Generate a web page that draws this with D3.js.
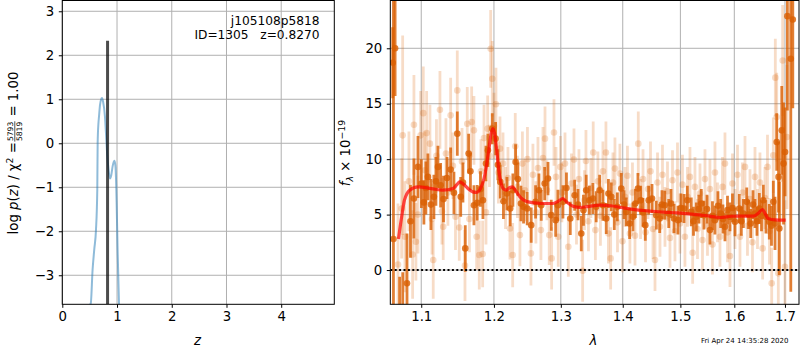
<!DOCTYPE html>
<html>
<head>
<meta charset="utf-8">
<script src="https://cdn.jsdelivr.net/npm/d3@7"></script>
<style>
  body { margin: 0; background: #fff; }
  text { font-family: "DejaVu Sans", sans-serif; }
</style>
</head>
<body>
<div id="chart"></div>
<script>
// redshift fit summary -- p(z) on the left, 1D spectrum + model on the right

// p(z) panel
var zTicks = [0, 1, 2, 3, 4];
var pzTicks = [-3, -2, -1, 0, 1, 2, 3];
var pzZ   = [0.40, 0.47, 0.52, 0.553, 0.585, 0.615, 0.639, 0.646, 0.66, 0.67, 0.69, 0.71, 0.725, 0.745, 0.78, 0.798, 0.82, 0.845, 0.871, 0.895, 0.92, 0.95, 0.97, 0.985, 0.993, 1.01, 1.036, 1.06];
var pzLog = [-3.70, -3.70, -3.64, -2.88, -2.40, -1.98, -1.07, 0.00, 0.45, 0.60, 0.88, 1.00, 1.03, 0.95, 0.60, 0.23, -0.25, -0.60, -0.80, -0.72, -0.52, -0.40, -0.50, -0.95, -1.36, -2.40, -3.66, -4.60];
var zBest = 0.827;
var zBestTop = 2.33;

// spectrum panel
var waveTicks = [1.1, 1.2, 1.3, 1.4, 1.5, 1.6, 1.7];
var fluxTicks = [0, 5, 10, 15, 20];

var darkWave = [1.0631, 1.0640, 1.0661, 1.0719, 1.0759, 1.0814, 1.0859, 1.0904, 1.0957, 1.1002, 1.1035, 1.1061, 1.1088, 1.1128, 1.1168, 1.1195, 1.1222, 1.1258, 1.1297, 1.1344, 1.1394, 1.1439, 1.1485, 1.1532, 1.1563, 1.1595, 1.1642, 1.1667, 1.1716, 1.1762, 1.1808, 1.1843, 1.1886, 1.1914, 1.1976, 1.2024, 1.2057, 1.2091, 1.2137, 1.2188, 1.2236, 1.2275, 1.2315, 1.2349, 1.2394, 1.2433, 1.2487, 1.2547, 1.2613, 1.2664, 1.2699, 1.2751, 1.2802, 1.2852, 1.2920, 1.2955, 1.3033, 1.3088, 1.3148, 1.3217, 1.3270, 1.3322, 1.3357, 1.3401, 1.3452, 1.3509, 1.3562, 1.3618, 1.3672, 1.3726, 1.3762, 1.3809, 1.3859, 1.3909, 1.3976, 1.4021, 1.4059, 1.4116, 1.4172, 1.4214, 1.4257, 1.4304, 1.4343, 1.4383, 1.4441, 1.4499, 1.4573, 1.4633, 1.4673, 1.4721, 1.4792, 1.4832, 1.4886, 1.4957, 1.5011, 1.5065, 1.5125, 1.5197, 1.5237, 1.5289, 1.5334, 1.5380, 1.5429, 1.5485, 1.5540, 1.5587, 1.5633, 1.5690, 1.5741, 1.5784, 1.5822, 1.5870, 1.5917, 1.5965, 1.6013, 1.6096, 1.6135, 1.6173, 1.6240, 1.6275, 1.6317, 1.6362, 1.6401, 1.6440, 1.6486, 1.6529, 1.6565, 1.6618, 1.6684, 1.6728, 1.6765, 1.6799, 1.6833, 1.6870, 1.6886, 1.6935, 1.6971, 1.7002, 1.7049, 1.7119, 1.7160];
var darkFlux = [18.7, 2.8, 20.0, -6.0, -5.5, -1.2, 4.4, 6.45, 9.3, 7.8, 6.1, 7.4, 8.4, 5.9, 6.6, 8.0, 9.3, 7.65, 6.4, 8.3, 9.06, 6.96, 12.3, 6.6, 7.9, 1.95, 10.5, 8.9, 5.85, 6.06, 7.3, 6.3, 9.6, 10.8, 12.75, 11.85, 9.5, 7.95, 6.2, 6.9, 5.55, 7.2, 9.75, 8.2, 6.0, 5.7, 5.55, 4.05, 6.15, 7.2, 5.85, 7.8, 8.25, 4.95, 4.5, 5.85, 6.15, 7.4, 4.65, 6.75, 5.9, 3.3, 5.4, 7.2, 6.3, 6.45, 5.7, 7.2, 5.85, 4.65, 6.9, 6.6, 5.0, 5.7, 7.35, 5.9, 5.25, 4.2, 4.8, 6.0, 7.35, 6.3, 5.2, 4.05, 6.3, 6.45, 4.95, 4.65, 5.9, 5.85, 5.1, 6.0, 4.65, 4.5, 5.6, 5.55, 6.3, 5.25, 4.4, 4.8, 5.5, 6.0, 4.95, 5.5, 3.6, 4.9, 4.5, 5.8, 5.1, 4.6, 3.9, 5.4, 4.8, 5.6, 4.35, 5.55, 4.4, 5.1, 6.15, 5.0, 4.2, 5.9, 5.1, 4.4, 5.55, 4.9, 6.3, 4.8, 4.35, 4.0, 6.15, 4.2, 11.55, 8.4, 3.75, 12.6, 9.6, 10.65, 22.9, 19.05, 22.6];
var darkErr  = [3.2, 22, 4.3, 5.4, 5.3, 4.5, 3.3, 3.6, 2.8, 2.2, 2.0, 2.4, 2.1, 2.3, 2.0, 2.2, 1.9, 2.0, 2.1, 1.9, 2.0, 1.9, 2.0, 1.8, 1.8, 2.1, 1.8, 1.7, 1.8, 1.6, 1.6, 1.7, 1.6, 1.5, 1.4, 1.5, 1.4, 1.5, 1.6, 1.5, 1.6, 1.5, 1.6, 1.5, 1.6, 1.5, 1.5, 1.6, 1.5, 1.5, 1.4, 1.5, 1.5, 1.4, 1.5, 1.4, 1.5, 1.4, 1.5, 1.4, 1.4, 1.6, 1.4, 1.4, 1.3, 1.4, 1.4, 1.4, 1.4, 1.4, 1.3, 1.3, 1.4, 1.3, 1.4, 1.3, 1.3, 1.4, 1.3, 1.3, 1.4, 1.3, 1.3, 1.4, 1.3, 1.3, 1.3, 1.3, 1.3, 1.3, 1.3, 1.3, 1.3, 1.3, 1.3, 1.3, 1.3, 1.3, 1.3, 1.3, 1.3, 1.3, 1.3, 1.3, 1.3, 1.3, 1.3, 1.3, 1.3, 1.3, 1.3, 1.3, 1.3, 1.3, 1.3, 1.3, 1.3, 1.3, 1.3, 1.3, 1.3, 1.3, 1.3, 1.3, 1.4, 1.4, 1.4, 1.5, 1.6, 1.8, 1.9, 2.4, 2.6, 3.2, 4.2, 4.0, 5.5, 4.0, 8.5, 21, 8];

var lightWave = [1.0698, 1.0745, 1.0758, 1.0788, 1.0839, 1.0887, 1.0904, 1.0930, 1.0957, 1.0992, 1.1027, 1.1049, 1.1071, 1.1115, 1.1142, 1.1159, 1.1202, 1.1249, 1.1276, 1.1293, 1.1330, 1.1357, 1.1394, 1.1425, 1.1460, 1.1485, 1.1512, 1.1550, 1.1591, 1.1623, 1.1653, 1.1684, 1.1716, 1.1754, 1.1791, 1.1815, 1.1839, 1.1858, 1.1886, 1.1910, 1.1936, 1.1953, 1.1976, 1.2000, 1.2029, 1.2065, 1.2087, 1.2131, 1.2167, 1.2203, 1.2232, 1.2272, 1.2310, 1.2342, 1.2379, 1.2416, 1.2453, 1.2491, 1.2543, 1.2573, 1.2618, 1.2649, 1.2694, 1.2725, 1.2756, 1.2786, 1.2821, 1.2858, 1.2894, 1.2925, 1.2960, 1.2994, 1.3017, 1.3065, 1.3117, 1.3167, 1.3206, 1.3246, 1.3285, 1.3344, 1.3373, 1.3397, 1.3437, 1.3477, 1.3514, 1.3549, 1.3590, 1.3631, 1.3672, 1.3721, 1.3762, 1.3799, 1.3837, 1.3870, 1.3912, 1.3953, 1.3995, 1.4037, 1.4079, 1.4121, 1.4164, 1.4207, 1.4263, 1.4301, 1.4344, 1.4387, 1.4430, 1.4473, 1.4516, 1.4551, 1.4595, 1.4638, 1.4682, 1.4726, 1.4770, 1.4814, 1.4859, 1.4903, 1.4948, 1.4992, 1.5037, 1.5082, 1.5128, 1.5173, 1.5222, 1.5264, 1.5310, 1.5356, 1.5402, 1.5448, 1.5494, 1.5540, 1.5587, 1.5634, 1.5681, 1.5728, 1.5775, 1.5822, 1.5870, 1.5917, 1.5965, 1.6013, 1.6061, 1.6109, 1.6157, 1.6206, 1.6254, 1.6303, 1.6352, 1.6401, 1.6450, 1.6499, 1.6552, 1.6598, 1.6648, 1.6688, 1.6732, 1.6765, 1.6805, 1.6833, 1.6865, 1.6899, 1.6953, 1.7000, 1.7041];
var lightFlux = [0.5, 5.55, 12.15, 3.0, 8.0, 1.4, 13.1, 2.55, 5.0, 12.15, 14.15, 9.0, 12.35, 11.4, 4.6, 0.9, 10.3, 14.45, 5.3, 3.9, 10.5, 7.0, 13.95, 9.4, 4.8, 16.2, 3.84, 9.8, 0.4, 13.2, 4.6, 13.35, 12.6, 3.0, 1.35, 8.9, 1.44, 11.9, 5.2, 12.75, 10.3, 19.95, 17.25, 13.0, 14.95, 8.8, 10.95, 9.6, 6.5, 8.3, 3.75, 1.35, 11.16, 7.5, 3.15, 9.6, 7.2, 10.0, 1.5, 8.6, 5.2, 9.2, 3.6, 10.1, 11.85, 7.2, 3.15, 1.05, 12.4, 8.4, 3.0, 9.3, 7.0, 9.6, 2.1, 7.8, 9.96, 5.0, 8.2, -0.06, 6.3, 9.84, 4.4, 7.4, 10.6, 3.6, 8.0, 4.9, 8.9, 10.6, 3.3, 1.05, 7.9, 9.15, 4.3, 8.7, 2.6, 6.6, 8.5, 3.3, 7.0, 3.1, 11.4, 5.5, 8.2, 3.4, 7.3, 8.9, 3.7, 0.9, 7.9, 3.9, 8.6, 4.8, 7.1, 2.9, 8.1, 3.5, 8.8, 4.2, 7.7, 3.0, 6.6, 8.4, 1.56, 7.5, 3.7, 6.9, 2.7, 8.2, 4.0, 7.3, 2.3, 8.8, 5.2, 3.0, 7.5, 9.6, 3.4, 1.26, 7.8, 4.6, 8.6, 3.0, 7.0, 9.3, 4.0, 6.4, 2.5, 8.4, 4.6, 7.9, 1.95, 6.5, 9.3, 3.5, -1.2, 10.35, 17.35, 13.8, -0.3, 8.2, 18.9, 0.3, 12.0];
var lightErr  = [5.5, 4.5, 9.0, 5.0, 4.5, 4.0, 4.5, 3.5, 3.5, 4.0, 4.2, 3.5, 3.8, 3.5, 3.2, 3.5, 3.3, 3.5, 3.0, 3.0, 3.2, 3.0, 3.4, 3.0, 3.0, 3.6, 3.0, 3.0, 3.2, 3.3, 3.0, 3.2, 3.1, 3.0, 3.1, 2.9, 3.0, 3.0, 2.9, 3.0, 2.8, 3.5, 3.4, 3.0, 3.3, 2.8, 2.9, 2.8, 2.8, 2.8, 2.8, 2.9, 3.0, 2.8, 2.8, 2.9, 2.8, 2.9, 2.9, 2.8, 2.8, 2.8, 2.7, 2.8, 2.9, 2.7, 2.7, 2.8, 3.0, 2.7, 2.7, 2.8, 2.7, 2.8, 2.7, 2.7, 2.8, 2.7, 2.7, 2.8, 2.7, 2.8, 2.7, 2.7, 2.8, 2.7, 2.7, 2.7, 2.7, 2.8, 2.7, 2.8, 2.7, 2.8, 2.7, 2.7, 2.8, 2.7, 2.7, 2.7, 2.7, 2.7, 2.9, 2.7, 2.7, 2.7, 2.7, 2.7, 2.7, 2.8, 2.7, 2.7, 2.7, 2.7, 2.7, 2.7, 2.7, 2.7, 2.7, 2.7, 2.7, 2.7, 2.7, 2.7, 2.8, 2.7, 2.7, 2.7, 2.7, 2.7, 2.7, 2.7, 2.7, 2.8, 2.7, 2.7, 2.7, 2.8, 2.7, 2.8, 2.7, 2.7, 2.7, 2.7, 2.7, 2.8, 2.7, 2.7, 2.7, 2.7, 2.7, 2.7, 2.8, 2.8, 2.9, 3.0, 3.2, 3.4, 3.5, 4.0, 4.5, 4.5, 5.0, 6.0, 6.5, 8.0];

var modelWave = [1.0704, 1.0745, 1.0781, 1.0848, 1.0957, 1.1133, 1.1289, 1.1425, 1.1480, 1.1518, 1.1570, 1.1632, 1.1700, 1.1748, 1.1790, 1.1819, 1.1860, 1.1890, 1.1930, 1.1960, 1.1985, 1.2010, 1.2040, 1.2070, 1.2100, 1.2140, 1.2180, 1.2230, 1.2270, 1.2310, 1.2380, 1.2470, 1.2600, 1.2750, 1.2880, 1.2960, 1.3030, 1.3100, 1.3190, 1.3300, 1.3450, 1.3620, 1.3800, 1.3970, 1.4200, 1.4430, 1.4700, 1.4960, 1.5200, 1.5450, 1.5730, 1.5950, 1.6110, 1.6370, 1.6460, 1.6550, 1.6600, 1.6660, 1.6800, 1.7015];
var modelFlux = [2.8, 4.8, 6.3, 7.2, 7.5, 7.35, 7.2, 7.35, 7.7, 7.95, 7.75, 7.35, 7.05, 7.0, 7.15, 7.5, 8.3, 9.3, 11.0, 12.3, 12.75, 12.3, 10.8, 9.0, 7.9, 7.3, 7.2, 7.45, 7.5, 7.2, 6.6, 6.2, 6.05, 6.0, 6.0, 6.2, 6.45, 6.1, 5.76, 5.65, 5.75, 5.85, 5.8, 5.64, 5.45, 5.34, 5.22, 5.16, 5.05, 4.92, 4.74, 4.85, 4.86, 4.86, 5.1, 5.46, 5.1, 4.65, 4.52, 4.5];

var orange = "#d95f02";

var svg = d3.select("#chart").append("svg")
  .attr("width", 800).attr("height", 350)
  .style("background", "#fff");

// panel boxes in pixels
var L = {x0: 62.3, x1: 334.3, y0: 0.5, y1: 304.3};
var R = {x0: 390.3, x1: 799, y0: 0.5, y1: 304.3};

var zScale = d3.scaleLinear().domain([0, 4.97]).range([L.x0, L.x1]);
var pzScale = d3.scaleLinear().domain([-3.66, 3.245]).range([L.y1, L.y0]);
var waveScale = d3.scaleLog().domain([1.0600, 1.7288]).range([R.x0, R.x1]);
var fluxScale = d3.scaleLinear().domain([-3.09, 24.31]).range([R.y1, R.y0]);

var defs = svg.append("defs");
[["clipL", L], ["clipR", R]].forEach(function (c) {
  defs.append("clipPath").attr("id", c[0]).append("rect")
    .attr("x", c[1].x0).attr("y", c[1].y0)
    .attr("width", c[1].x1 - c[1].x0).attr("height", c[1].y1 - c[1].y0);
});

var grid = function (g, xs, ys, xScale, yScale, box) {
  g.selectAll("line.gx").data(xs).enter().append("line")
    .attr("x1", xScale).attr("x2", xScale)
    .attr("y1", box.y0).attr("y2", box.y1);
  g.selectAll("line.gy").data(ys).enter().append("line")
    .attr("y1", yScale).attr("y2", yScale)
    .attr("x1", box.x0).attr("x2", box.x1);
  g.selectAll("line").attr("stroke", "#b0b0b0").attr("stroke-width", 1);
};

var styleAxis = function (g) {
  g.select(".domain").remove();
  g.selectAll("line").attr("stroke", "#000").attr("stroke-width", 1);
  g.selectAll("text").attr("font-size", 13.3).attr("fill", "#000")
    .attr("font-family", "DejaVu Sans");
};

var frame = function (box) {
  svg.append("rect")
    .attr("x", box.x0).attr("y", box.y0)
    .attr("width", box.x1 - box.x0).attr("height", box.y1 - box.y0)
    .attr("fill", "none").attr("stroke", "#000").attr("stroke-width", 1);
};

///////////////////////////////////////////////////////////////////////////////
// Left: log p(z)

grid(svg.append("g"), zTicks, pzTicks, zScale, pzScale, L);

var left = svg.append("g").attr("clip-path", "url(#clipL)");

left.append("path")
  .datum(d3.range(pzZ.length))
  .attr("fill", "none")
  .attr("stroke", "#1f77b4").attr("stroke-opacity", 0.5)
  .attr("stroke-width", 2)
  .attr("d", d3.line()
    .x(function (i) { return zScale(pzZ[i]); })
    .y(function (i) { return pzScale(pzLog[i]); })
    .curve(d3.curveMonotoneX));

left.append("line")
  .attr("x1", zScale(zBest)).attr("x2", zScale(zBest))
  .attr("y1", pzScale(-3.66)).attr("y2", pzScale(zBestTop))
  .attr("stroke", "#000").attr("stroke-opacity", 0.7)
  .attr("stroke-width", 3);

svg.append("g").attr("transform", "translate(0," + L.y1 + ")")
  .call(d3.axisBottom(zScale).tickValues(zTicks).tickFormat(d3.format("d"))
    .tickSize(3.5).tickPadding(4).tickSizeOuter(0))
  .call(styleAxis);

svg.append("g").attr("transform", "translate(" + L.x0 + ",0)")
  .call(d3.axisLeft(pzScale).tickValues(pzTicks).tickFormat(d3.format("d"))
    .tickSize(3.5).tickPadding(4.5).tickSizeOuter(0))
  .call(styleAxis);

frame(L);

svg.append("text").attr("x", 319.5).attr("y", 24.5)
  .attr("text-anchor", "end").attr("font-size", 12.2)
  .text("j105108p5818");
svg.append("text").attr("x", 319.5).attr("y", 39)
  .attr("text-anchor", "end").attr("font-size", 12.2)
  .style("white-space", "pre")
  .text("ID=1305   z=0.8270");

svg.append("text").attr("x", zScale(2.47)).attr("y", 344.5)
  .attr("text-anchor", "middle").attr("font-size", 13.3)
  .attr("font-style", "italic").text("z");

// y label with the stacked chi2 fraction
var yl = svg.append("g").attr("transform", "translate(18,153) rotate(-90)");
var ylIn = yl.append("g");
var t1 = ylIn.append("text").attr("font-size", 13.3);
t1.append("tspan").text("log ");
t1.append("tspan").attr("font-style", "italic").text("p");
t1.append("tspan").text("(");
t1.append("tspan").attr("font-style", "italic").text("z");
t1.append("tspan").text(") / χ");
t1.append("tspan").attr("font-size", 9.4).attr("dy", -5.5).text("2");
t1.append("tspan").attr("dy", 5.5).text(" = ");
var w1 = t1.node().getComputedTextLength();
var num = ylIn.append("text").attr("font-size", 7.6).attr("x", w1 + 1).attr("y", -4.6).text("5793");
var den = ylIn.append("text").attr("font-size", 7.6).attr("x", w1 + 1).attr("y", 3.6).text("5819");
var fw = Math.max(num.node().getComputedTextLength(), den.node().getComputedTextLength());
ylIn.append("line").attr("x1", w1 + 0.5).attr("x2", w1 + fw + 1.5)
  .attr("y1", -3.2).attr("y2", -3.2).attr("stroke", "#000").attr("stroke-width", 0.7);
var t3 = ylIn.append("text").attr("font-size", 13.3).attr("x", w1 + fw + 2)
  .style("white-space", "pre").text(" = 1.00");
var total = w1 + fw + 2 + t3.node().getComputedTextLength();
ylIn.attr("transform", "translate(" + (-total / 2) + ",0)");

///////////////////////////////////////////////////////////////////////////////
// Right: spectrum

grid(svg.append("g"), waveTicks, fluxTicks, waveScale, fluxScale, R);

var right = svg.append("g").attr("clip-path", "url(#clipR)");

var drawPoints = function (wave, flux, err, alpha) {
  var g = right.append("g");
  var idx = d3.range(wave.length);
  g.selectAll("line").data(idx).enter().append("line")
    .attr("x1", function (i) { return waveScale(wave[i]); })
    .attr("x2", function (i) { return waveScale(wave[i]); })
    .attr("y1", function (i) { return fluxScale(flux[i] - err[i]); })
    .attr("y2", function (i) { return fluxScale(flux[i] + err[i]); })
    .attr("stroke", orange).attr("stroke-opacity", alpha)
    .attr("stroke-width", 2.8);
  g.selectAll("circle").data(idx).enter().append("circle")
    .attr("cx", function (i) { return waveScale(wave[i]); })
    .attr("cy", function (i) { return fluxScale(flux[i]); })
    .attr("r", 3.3)
    .attr("fill", orange).attr("fill-opacity", alpha);
};

drawPoints(lightWave, lightFlux, lightErr, 0.22);
drawPoints(darkWave, darkFlux, darkErr, 0.8);

right.append("line")
  .attr("x1", R.x0).attr("x2", R.x1)
  .attr("y1", fluxScale(0)).attr("y2", fluxScale(0))
  .attr("stroke", "#000").attr("stroke-width", 2)
  .attr("stroke-dasharray", "2,2.4");

right.append("path")
  .datum(d3.range(modelWave.length))
  .attr("fill", "none")
  .attr("stroke", "red").attr("stroke-opacity", 0.7)
  .attr("stroke-width", 3.2)
  .attr("stroke-linejoin", "round")
  .attr("d", d3.line()
    .x(function (i) { return waveScale(modelWave[i]); })
    .y(function (i) { return fluxScale(modelFlux[i]); })
    .curve(d3.curveMonotoneX));

svg.append("g").attr("transform", "translate(0," + R.y1 + ")")
  .call(d3.axisBottom(waveScale).tickValues(waveTicks).tickFormat(d3.format(".1f"))
    .tickSize(3.5).tickPadding(4).tickSizeOuter(0))
  .call(styleAxis);

svg.append("g").attr("transform", "translate(" + R.x0 + ",0)")
  .call(d3.axisLeft(fluxScale).tickValues(fluxTicks).tickFormat(d3.format("d"))
    .tickSize(3.5).tickPadding(4.5).tickSizeOuter(0))
  .call(styleAxis);

frame(R);

svg.append("text").attr("x", 593.5).attr("y", 345)
  .attr("text-anchor", "middle").attr("font-size", 13.3)
  .attr("font-style", "italic").text("λ");

var yr = svg.append("g").attr("transform", "translate(350,153) rotate(-90)");
var tr = yr.append("text").attr("font-size", 13.3).attr("text-anchor", "middle");
tr.append("tspan").attr("font-style", "italic").text("f");
tr.append("tspan").attr("font-style", "italic").attr("font-size", 9.4).attr("dy", 3).text("λ");
tr.append("tspan").attr("dy", -3).style("white-space", "pre").text(" × 10");
tr.append("tspan").attr("font-size", 9.4).attr("dy", -5.5).text("−19");

svg.append("text").attr("x", 744.7).attr("y", 342.5)
  .attr("text-anchor", "middle").attr("font-size", 7)
  .text("Fri Apr 24 14:35:28 2020");
</script>
</body>
</html>
